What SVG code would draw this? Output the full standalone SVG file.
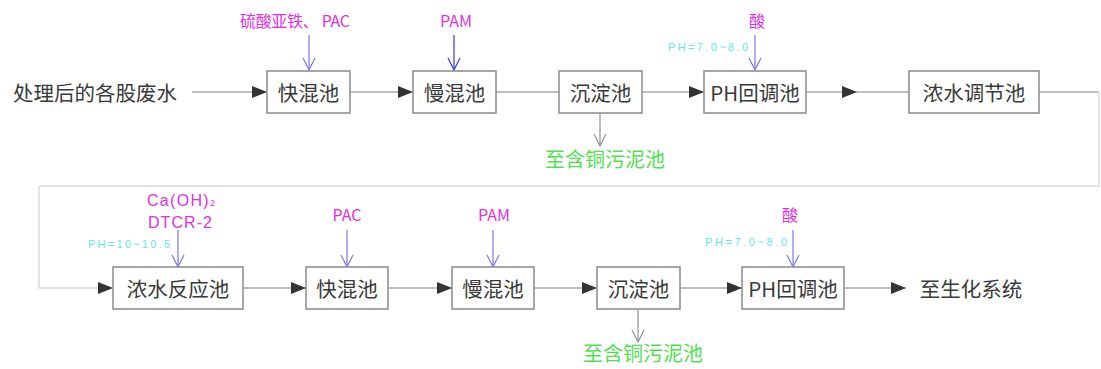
<svg xmlns="http://www.w3.org/2000/svg" width="1101" height="369" viewBox="0 0 1101 369">
<style>
.box{fill:#fff;stroke:#8a8a8a;stroke-width:1.5}
.t{font-family:"Noto Sans CJK SC","Liberation Sans",sans-serif;font-size:20.5px;fill:#3a3a3a;text-anchor:middle;dominant-baseline:central}
.m{font-family:"Noto Sans CJK SC","Liberation Sans",sans-serif;font-size:16px;fill:#e030e0;text-anchor:middle}
.ml{font-family:"Liberation Sans",sans-serif;font-size:16px;fill:#e030e0;text-anchor:middle}
.c{font-family:"Liberation Sans",sans-serif;font-size:11px;fill:#60e8e8}
.g{font-family:"Noto Sans CJK SC",sans-serif;font-size:20px;fill:#50e050;text-anchor:middle}
.ln{stroke:#a8a8a8;stroke-width:1.5;fill:none}
.lp{stroke:#dcdcdc;stroke-width:1.5;fill:none}
.ah{fill:#333}
.dose{stroke:#7878f0;stroke-width:1.2;fill:none}
.dose2{stroke:#3838d8;stroke-width:1.2;fill:none}
.sl{stroke:#909090;stroke-width:1.2;fill:none}
</style>
<defs>
<path id="fa" d="M-15,-6 L0,0 L-15,6 Z"/>
<path id="va" d="M-6,-12 L0,0 L6,-12"/>
</defs>
<g id="connectors">
<line class="ln" x1="192" y1="92" x2="267" y2="92"/>
<use href="#fa" class="ah" x="267" y="92"/>
<line class="ln" x1="350" y1="92" x2="413" y2="92"/>
<use href="#fa" class="ah" x="413" y="92"/>
<line class="ln" x1="496" y1="92" x2="559" y2="92"/>
<line class="ln" x1="642" y1="92" x2="704" y2="92"/>
<use href="#fa" class="ah" x="704" y="92"/>
<line class="ln" x1="806" y1="92" x2="909" y2="92"/>
<use href="#fa" class="ah" x="857" y="92"/>
<line class="ln" x1="1039" y1="92" x2="1099" y2="92"/>
<polyline class="lp" points="1099,92 1099,186 39,186 39,288 100,288"/>
<use href="#fa" class="ah" x="113" y="288"/>
<line class="ln" x1="243" y1="288" x2="306" y2="288"/>
<use href="#fa" class="ah" x="306" y="288"/>
<line class="ln" x1="388" y1="288" x2="452" y2="288"/>
<use href="#fa" class="ah" x="452" y="288"/>
<line class="ln" x1="534" y1="288" x2="597" y2="288"/>
<use href="#fa" class="ah" x="597" y="288"/>
<line class="ln" x1="680" y1="288" x2="742" y2="288"/>
<use href="#fa" class="ah" x="742" y="288"/>
<line class="ln" x1="844" y1="288" x2="906" y2="288"/>
<use href="#fa" class="ah" x="906" y="288"/>
<line class="dose" x1="309" y1="35" x2="309" y2="70"/>
<use href="#va" class="dose" x="309" y="70"/>
<line class="dose2" x1="454" y1="35" x2="454" y2="70"/>
<use href="#va" class="dose2" x="454" y="70"/>
<line class="dose" x1="755" y1="35" x2="755" y2="70"/>
<use href="#va" class="dose" x="755" y="70"/>
<line class="dose" x1="178" y1="230" x2="178" y2="267"/>
<use href="#va" class="dose" x="178" y="267"/>
<line class="dose" x1="347" y1="230" x2="347" y2="267"/>
<use href="#va" class="dose" x="347" y="267"/>
<line class="dose" x1="493" y1="230" x2="493" y2="267"/>
<use href="#va" class="dose" x="493" y="267"/>
<line class="dose" x1="793" y1="230" x2="793" y2="267"/>
<use href="#va" class="dose" x="793" y="267"/>
<line class="sl" x1="600" y1="113" x2="600" y2="146"/>
<use href="#va" class="sl" x="600" y="146"/>
<line class="sl" x1="638" y1="309" x2="638" y2="342"/>
<use href="#va" class="sl" x="638" y="342"/>
</g>
<g id="src"><text class="t" x="95" y="92">处理后的各股废水</text></g>
<g id="n1"><rect class="box" x="267" y="71" width="83" height="42"/><text class="t" x="308.5" y="92">快混池</text></g>
<g id="n2"><rect class="box" x="413" y="71" width="83" height="42"/><text class="t" x="454.5" y="92">慢混池</text></g>
<g id="n3"><rect class="box" x="559" y="71" width="83" height="42"/><text class="t" x="600.5" y="92">沉淀池</text></g>
<g id="n4"><rect class="box" x="704" y="71" width="102" height="42"/><text class="t" x="755" y="92">PH回调池</text></g>
<g id="n5"><rect class="box" x="909" y="71" width="130" height="42"/><text class="t" x="974" y="92">浓水调节池</text></g>
<g id="n6"><rect class="box" x="113" y="267" width="130" height="42"/><text class="t" x="178" y="288">浓水反应池</text></g>
<g id="n7"><rect class="box" x="306" y="267" width="82" height="42"/><text class="t" x="347" y="288">快混池</text></g>
<g id="n8"><rect class="box" x="452" y="267" width="82" height="42"/><text class="t" x="493" y="288">慢混池</text></g>
<g id="n9"><rect class="box" x="597" y="267" width="83" height="42"/><text class="t" x="638.5" y="288">沉淀池</text></g>
<g id="n10"><rect class="box" x="742" y="267" width="102" height="42"/><text class="t" x="793" y="288">PH回调池</text></g>
<g id="dst"><text class="t" x="971" y="288">至生化系统</text></g>
<g id="labels">
<text class="m" x="295" y="27" textLength="110" lengthAdjust="spacing">硫酸亚铁、 PAC</text>
<text class="m" x="456" y="27">PAM</text>
<text class="m" x="757" y="27">酸</text>
<text class="c" x="668" y="51" textLength="80" lengthAdjust="spacing">PH=7.0~8.0</text>
<text class="g" x="605" y="167">至含铜污泥池</text>
<text class="ml" x="181" y="206" textLength="68" lengthAdjust="spacing">Ca(OH)<tspan font-size="9">2</tspan></text>
<text class="ml" x="180" y="228" textLength="64" lengthAdjust="spacing">DTCR-2</text>
<text class="c" x="88" y="248" textLength="82" lengthAdjust="spacing">PH=10~10.5</text>
<text class="m" x="347" y="221">PAC</text>
<text class="m" x="494" y="221">PAM</text>
<text class="m" x="790" y="221">酸</text>
<text class="c" x="705" y="246" textLength="82" lengthAdjust="spacing">PH=7.0~8.0</text>
<text class="g" x="643" y="361">至含铜污泥池</text>
</g>
</svg>
